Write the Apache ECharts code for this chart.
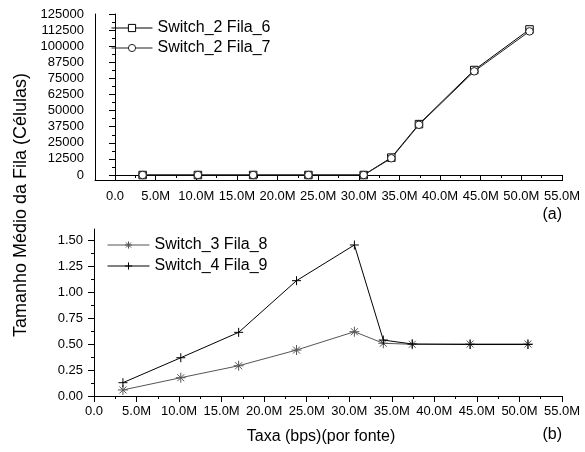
<!DOCTYPE html>
<html>
<head>
<meta charset="utf-8">
<script src="https://cdn.jsdelivr.net/npm/echarts@6/dist/echarts.min.js"></script>
<style>html,body{margin:0;padding:0;background:#fff}#c{width:585px;height:452px}</style>
</head>
<body>
<div id="c"></div>
<script>
// ---- data ----
const taxa   = [3.4e6, 10.2e6, 17.0e6, 23.8e6, 30.6e6, 34.0e6, 37.4e6, 44.2e6, 51.0e6];
const fila6  = [0, 0, 0, 0, 0, 13500, 39500, 81500, 113000];
const fila7  = [0, 0, 0, 0, 0, 13000, 39000, 80500, 111500];
const fila8  = [0.058, 0.176, 0.291, 0.442, 0.618, 0.507, 0.497, 0.500, 0.500];
const fila9  = [0.128, 0.368, 0.612, 1.109, 1.452, 0.538, 0.500, 0.495, 0.495];
const seriesNames = ['Switch_2 Fila_6', 'Switch_2 Fila_7', 'Switch_3 Fila_8', 'Switch_4 Fila_9'];
// tick settings [min, max, interval]
const xTicks    = [0, 55e6, 5e6];
const yTopTicks = [0, 125000, 12500];
const yBotTicks = [0, 1.5, 0.25];
const yTitle = 'Tamanho Médio da Fila (Células)';
const xTitle = 'Taxa (bps)(por fonte)';

const FONT = '"Liberation Sans", Arial, Helvetica, sans-serif';
const pairs = (xs, ys) => xs.map((x, i) => [x, ys[i]]);
const xFmt = v => v === 0 ? '0.0' : (v / 1e6).toFixed(1) + 'M';

function valueAxis(extra) {
  return Object.assign({
    type: 'value',
    axisLine: { show: true, lineStyle: { color: '#000', width: 1 } },
    axisTick: { show: true, inside: false, length: 6, lineStyle: { color: '#000' } },
    minorTick: { show: true, splitNumber: 2, length: 3, lineStyle: { color: '#000' } },
    splitLine: { show: false },
    minorSplitLine: { show: false },
    axisLabel: { color: '#000', fontSize: 13, fontFamily: FONT }
  }, extra);
}
function frameAxis(gridIndex) {
  return {
    type: 'value', gridIndex: gridIndex, min: 0, max: 1,
    axisLine: { show: true, lineStyle: { color: '#000', width: 1 } },
    axisTick: { show: false }, axisLabel: { show: false },
    splitLine: { show: false }
  };
}

const rectSym = 'rect';
const circSym = 'circle';
const asterisk = 'path://M0,5L10,5M5,0L5,10M1.5,1.5L8.5,8.5M8.5,1.5L1.5,8.5';
const plus = 'path://M0,5L10,5M5,0L5,10';

const styles = [
  { line: '#000', fill: '#fff', stroke: '#000', sym: rectSym, size: 7.5 },
  { line: '#222', fill: '#fff', stroke: '#222', sym: circSym, size: 7.5 },
  { line: '#555', fill: '#555', stroke: '#555', sym: asterisk, size: 10 },
  { line: '#000', fill: '#000', stroke: '#000', sym: plus, size: 9 }
];
const legendItem = i => ({
  name: seriesNames[i],
  itemStyle: { color: styles[i].fill, borderColor: styles[i].stroke, borderWidth: 1 },
  lineStyle: { color: styles[i].line, width: 1 }
});
const seriesData = [pairs(taxa, fila6), pairs(taxa, fila7), pairs(taxa, fila8), pairs(taxa, fila9)];
const axisIdx = [0, 0, 2, 2];

const chart = echarts.init(document.getElementById('c'));
chart.setOption({
  animation: false,
  backgroundColor: '#fff',
  textStyle: { fontFamily: FONT },
  grid: [
    { left: 115, right: 23, top: 14, height: 161 },
    { left: 95,  right: 23, top: 14, height: 166 },
    { left: 94,  right: 23, top: 240, height: 156 },
    { left: 94,  right: 23, top: 229, height: 167 }
  ],
  xAxis: [
    valueAxis({ gridIndex: 0, min: xTicks[0], max: xTicks[1], interval: xTicks[2], offset: 5,
      axisLabel: { color: '#000', fontSize: 13, fontFamily: FONT, margin: 10, formatter: xFmt } }),
    frameAxis(1),
    valueAxis({ gridIndex: 2, min: xTicks[0], max: xTicks[1], interval: xTicks[2],
      axisLabel: { color: '#000', fontSize: 13, fontFamily: FONT, margin: 9, formatter: xFmt } }),
    { type: 'value', gridIndex: 3, show: false, min: 0, max: 1 }
  ],
  yAxis: [
    valueAxis({ gridIndex: 0, min: yTopTicks[0], max: yTopTicks[1], interval: yTopTicks[2], offset: 20,
      axisLabel: { color: '#000', fontSize: 13, fontFamily: FONT, margin: 11, formatter: v => String(v) } }),
    frameAxis(1),
    valueAxis({ gridIndex: 2, min: yBotTicks[0], max: yBotTicks[1], interval: yBotTicks[2],
      axisLabel: { color: '#000', fontSize: 13, fontFamily: FONT, margin: 11, formatter: v => v.toFixed(2) } }),
    frameAxis(3)
  ],
  legend: [
    { data: [legendItem(0), legendItem(1)], orient: 'vertical', left: 106, top: 15,
      itemWidth: 41, itemHeight: 9, itemGap: 4,
      textStyle: { fontSize: 16, color: '#000', fontFamily: FONT } },
    { data: [legendItem(2), legendItem(3)], orient: 'vertical', left: 102, top: 232,
      itemWidth: 42, itemHeight: 9, itemGap: 5,
      textStyle: { fontSize: 16, color: '#000', fontFamily: FONT } }
  ],
  series: seriesNames.map((name, i) => ({
    name: name, type: 'line',
    xAxisIndex: axisIdx[i], yAxisIndex: axisIdx[i], data: seriesData[i],
    symbol: styles[i].sym, symbolSize: styles[i].size, color: styles[i].line,
    lineStyle: { color: styles[i].line, width: 1 },
    itemStyle: { color: styles[i].fill, borderColor: styles[i].stroke, borderWidth: 1 }
  })),
  graphic: [
    { type: 'text', x: 21, y: 205, rotation: Math.PI / 2,
      style: { text: yTitle, font: '18px ' + FONT, fill: '#000', textAlign: 'center', textVerticalAlign: 'middle' } },
    { type: 'text', x: 321, y: 437,
      style: { text: xTitle, font: '16px ' + FONT, fill: '#000', textAlign: 'center', textVerticalAlign: 'middle' } },
    { type: 'text', x: 562, y: 215,
      style: { text: '(a)', font: '16px ' + FONT, fill: '#000', textAlign: 'right', textVerticalAlign: 'middle' } },
    { type: 'text', x: 562, y: 435,
      style: { text: '(b)', font: '16px ' + FONT, fill: '#000', textAlign: 'right', textVerticalAlign: 'middle' } }
  ]
});
</script>
</body>
</html>
